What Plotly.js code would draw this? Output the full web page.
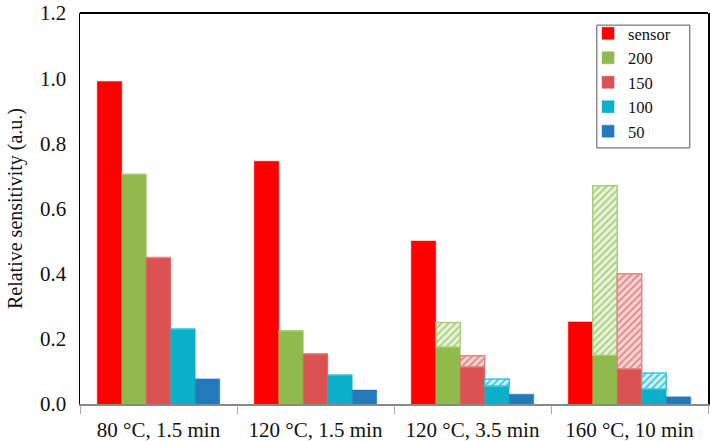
<!DOCTYPE html>
<html><head><meta charset="utf-8">
<script src="https://cdn.plot.ly/plotly-3.0.1.min.js"></script>
<style>body{margin:0;padding:0;background:#fff}#chart{width:710px;height:441px}</style>
</head><body><div id="chart"></div>
<script>
const categories = ["80 °C, 1.5 min", "120 °C, 1.5 min", "120 °C, 3.5 min", "160 °C, 10 min"];
// solid values
const sensor = [0.99, 0.745, 0.50, 0.252];
const s200 = [0.705, 0.225, 0.175, 0.15];
const s150 = [0.45, 0.154, 0.114, 0.108];
const s100 = [0.23, 0.089, 0.055, 0.046];
const s50 = [0.077, 0.043, 0.03, 0.022];
// totals including hatched portion
const t200 = [0.705, 0.225, 0.25, 0.67];
const t150 = [0.45, 0.154, 0.148, 0.40];
const t100 = [0.23, 0.089, 0.077, 0.095];

const names = ["sensor", "200", "150", "100", "50"];
const colors = ["#FF0000", "#8FBB4C", "#DC5252", "#0DB0C9", "#2479BA"];
const hatchBg = [null, "#E8F3DC", "#F5D3D3", "#D4F1F8", null];
const hatchFg = [null, "#A9CF7A", "#E38686", "#3CC6E0", null];
const solids = [sensor, s200, s150, s100, s50];
const totals = [null, t200, t150, t100, null];

const FONT = "'Liberation Serif', 'Times New Roman', serif";

const traces = [];
solids.forEach((vals, i) => {
  traces.push({
    type: "bar", x: categories, y: vals, name: names[i],
    offsetgroup: "g" + i,
    marker: {color: colors[i], line: {color: colors[i], width: 0.5}},
    hoverinfo: "skip"
  });
});
totals.forEach((tot, i) => {
  if (!tot) return;
  const extra = tot.map((v, k) => v - solids[i][k]);
  traces.push({
    type: "bar", x: categories, y: extra, base: solids[i],
    offsetgroup: "g" + i, showlegend: false,
    marker: {color: hatchBg[i],
      line: {color: hatchFg[i], width: 1.5},
      pattern: {shape: "/", fgcolor: hatchFg[i], bgcolor: hatchBg[i], size: 5, solidity: 0.35, fillmode: "replace"}},
    hoverinfo: "skip"
  });
});

const layout = {
  width: 710, height: 441,
  margin: {l: 80, r: 2, t: 13, b: 37},
  paper_bgcolor: "#fff", plot_bgcolor: "#fff",
  font: {family: FONT, color: "#111", size: 18},
  barmode: "group", bargap: 0.22, bargroupgap: 0,
  showlegend: true,
  legend: {x: 0.809, y: 0.992, xanchor: "left", yanchor: "top",
    bordercolor: "rgba(0,0,0,0)", borderwidth: 0, bgcolor: "rgba(0,0,0,0)",
    font: {size: 16.5, family: FONT, color: "#111"},
    tracegroupgap: 0, itemwidth: 30},
  xaxis: {showline: true, linecolor: "#888", linewidth: 2, ticks: "outside", tickson: "boundaries",
    ticklen: 8, tickcolor: "#aaa", tickwidth: 1, showgrid: false, zeroline: false,
    ticklabelstandoff: 6,
    tickfont: {size: 21, family: FONT}},
  yaxis: {range: [0, 1.2], dtick: 0.2, tickformat: ".1f", showline: true, linecolor: "#000", linewidth: 1.5,
    mirror: true, showgrid: false, zeroline: false, ticks: "", ticklabelstandoff: 8,
    tickfont: {size: 21, family: FONT},
    title: {text: "Relative sensitivity (a.u.)", font: {size: 20, family: FONT}, standoff: 12}},
  shapes: [
    {type: "line", xref: "paper", yref: "paper", x0: 0, x1: 1, y0: 1, y1: 1,
      line: {color: "#000", width: 2}},
    {type: "rect", xref: "paper", yref: "paper", x0: 0.823, x1: 0.971, y0: 0.655, y1: 0.969,
      line: {color: "#555", width: 1}, fillcolor: "rgba(0,0,0,0)"}
  ]
};
Plotly.newPlot("chart", traces, layout, {displayModeBar: false, staticPlot: true});
</script></body></html>
